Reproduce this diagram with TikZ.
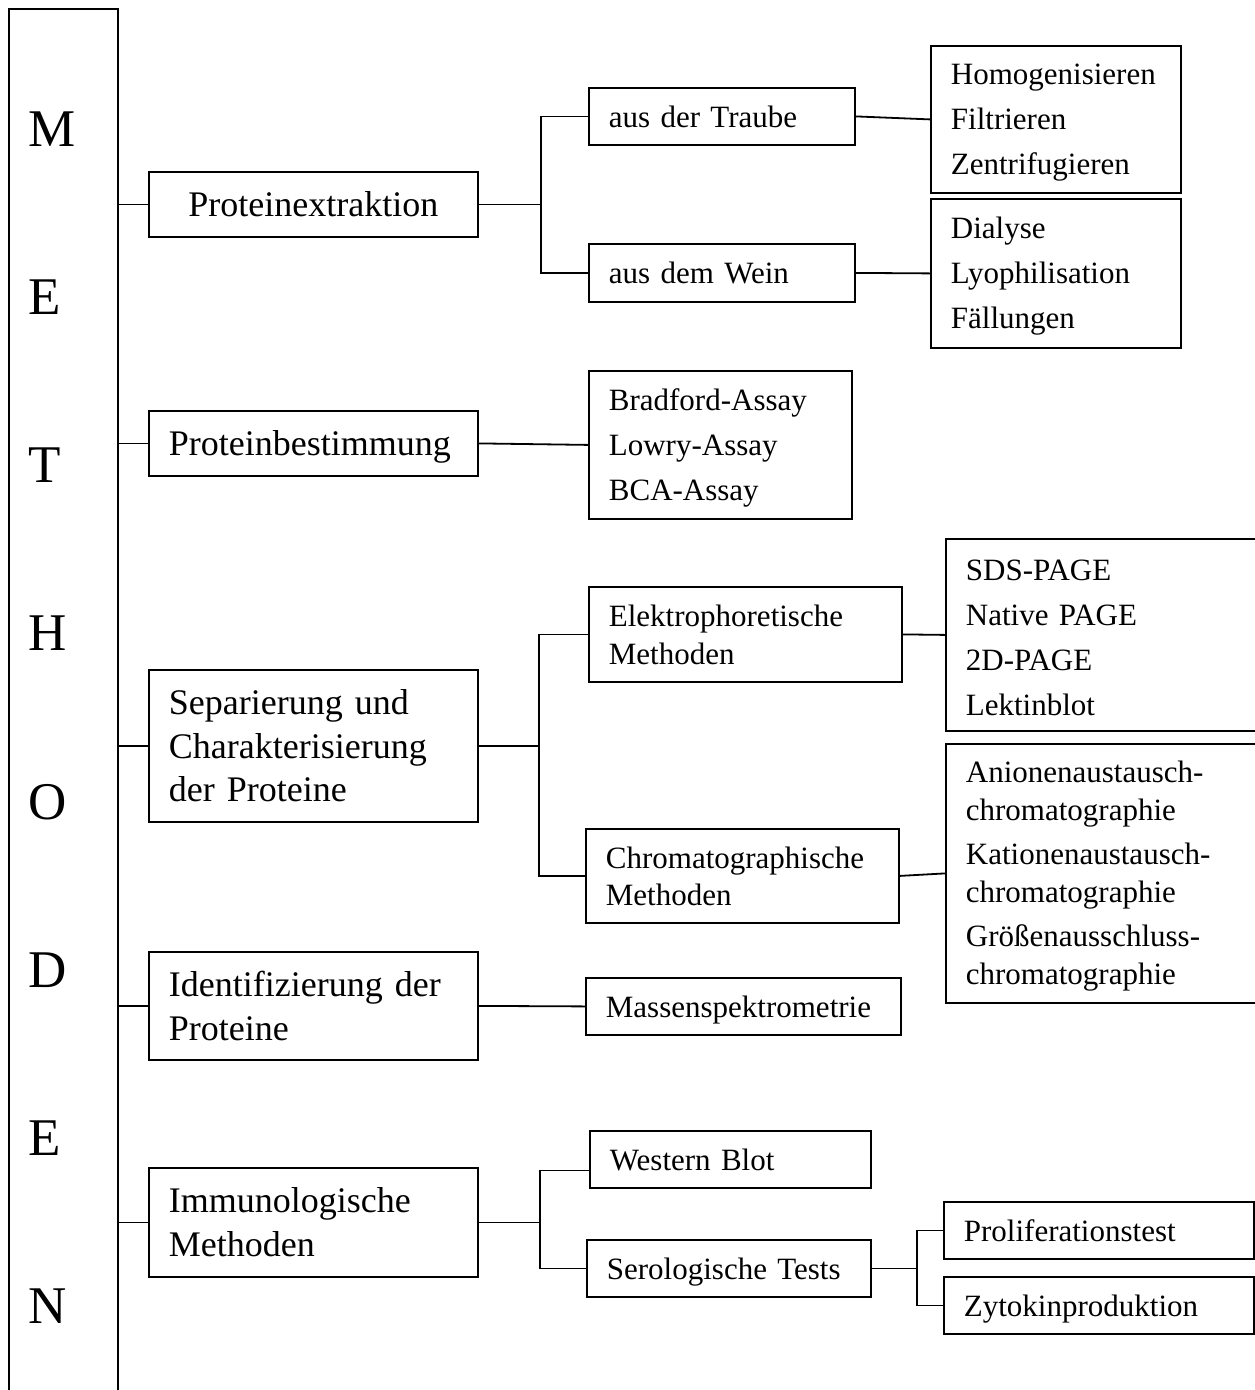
\documentclass[tikz,border=0pt]{standalone}
\usepackage{fontspec}
\setmainfont{Liberation Serif}
\usetikzlibrary{calc}
\begin{document}
\begin{tikzpicture}[x=1pt,y=-1pt, line width=1.8pt,
  box/.style={draw, rectangle, anchor=north west, inner xsep=20pt, inner ysep=0pt,
    align=left, font=\fontsize{31}{45}\selectfont},
  oneline/.style={text depth=0pt},
  list/.style={text height=27pt},
  big/.style={font=\fontsize{36}{43.5}\selectfont},
  letter/.style={anchor=base west, inner sep=0pt, font=\fontsize{53}{53}\selectfont}]
\useasboundingbox (0,0) rectangle (1255,1390);
\clip (0,0) rectangle (1255,1390);

% vertical title bar
\node[draw, anchor=north west, minimum width=109pt, minimum height=1420pt, inner sep=0pt] (meth) at (8,8) {};
\foreach \l [count=\i from 0] in {M,E,T,H,O,D,E,N}
  \node[letter] (l\i) at (28, {146+\i*168.25}) {\l};

% first level
\node[box,big,oneline,align=center,text width=289pt,minimum height=65pt] (ext) at (148,171) {Proteinextraktion};
\node[box,big,oneline,text width=289pt,minimum height=65pt] (best) at (148,410) {Proteinbestimmung};
\node[box,big,text width=289pt,minimum height=152pt] (sep) at (148,669) {Separierung und\\Charakterisierung\\der Proteine};
\node[box,big,text width=289pt,minimum height=108pt] (ident) at (148,951) {Identifizierung der\\Proteine};
\node[box,big,text width=289pt,minimum height=109pt] (imm) at (148,1167) {Immunologische\\Methoden};

% second level
\node[box,oneline,text width=226pt,minimum height=57pt] (traube) at (588,87) {aus der Traube};
\node[box,oneline,text width=226pt,minimum height=58pt] (wein) at (588,243) {aus dem Wein};
\node[box,list,text width=223pt,minimum height=148pt] (brad) at (588,370) {Bradford-Assay\\Lowry-Assay\\BCA-Assay};
\node[box,text width=273pt,minimum height=95pt,font=\fontsize{31}{38}\selectfont] (elek) at (588,586) {Elektrophoretische\\Methoden};
\node[box,text width=273pt,minimum height=94pt,font=\fontsize{31}{37}\selectfont] (chrom) at (585,828) {Chromatographische\\Methoden};
\node[box,oneline,text width=275pt,minimum height=57pt] (mass) at (585,977) {Massenspektrometrie};
\node[box,oneline,text width=241pt,minimum height=57pt] (wb) at (589,1130) {Western Blot};
\node[box,oneline,text width=244pt,minimum height=57pt] (sero) at (586,1239) {Serologische Tests};

% third level
\node[box,list,text width=210pt,minimum height=147pt] (homog) at (930,45) {Homogenisieren\\Filtrieren\\Zentrifugieren};
\node[box,list,text width=210pt,minimum height=149pt] (dial) at (930,198) {Dialyse\\Lyophilisation\\Fällungen};
\node[box,list,text width=290pt,minimum height=192pt] (sds) at (945,538) {SDS-PAGE\\Native PAGE\\2D-PAGE\\Lektinblot};
\node[box,list,text width=290pt,minimum height=259pt,font=\fontsize{31}{38}\selectfont] (anion) at (945,743)
  {Anionenaustausch-\\chromatographie\\[6pt]Kationenaustausch-\\chromatographie\\[6pt]Größenausschluss-\\chromatographie};
\node[box,oneline,text width=270pt,minimum height=57pt] (prol) at (943,1201) {Proliferationstest};
\node[box,oneline,text width=270pt,minimum height=57pt] (zyt) at (943,1276) {Zytokinproduktion};

% connectors from the title bar
\foreach \n in {ext,best,sep,ident,imm}
  \draw (\n.west) -- (\n.west -| meth.east);

% branches
\coordinate (b1) at (541,0);
\draw (ext.east) -- (ext.east -| b1);
\draw (traube.west) -| (b1 |- ext.east) |- (wein.west);
\draw (traube.east) -- (homog.west);
\draw (wein.east) -- (dial.west);
\draw (best.east) -- (brad.west);

\coordinate (b2) at (539,0);
\draw (sep.east) -- (sep.east -| b2);
\draw (elek.west) -| (b2 |- sep.east) |- (chrom.west);
\draw (elek.east) -- (sds.west);
\draw (chrom.east) -- (anion.west);

\draw (ident.east) -- (mass.west);

\coordinate (b3) at (540,0);
\draw (imm.east) -- (imm.east -| b3);
\draw ([yshift=-11pt]wb.west) -| (b3 |- imm.east) |- (sero.west);

\coordinate (b4) at (917,0);
\draw (sero.east) -- (sero.east -| b4);
\draw (prol.west) -| (b4 |- sero.east) |- (zyt.west);
\end{tikzpicture}
\end{document}
